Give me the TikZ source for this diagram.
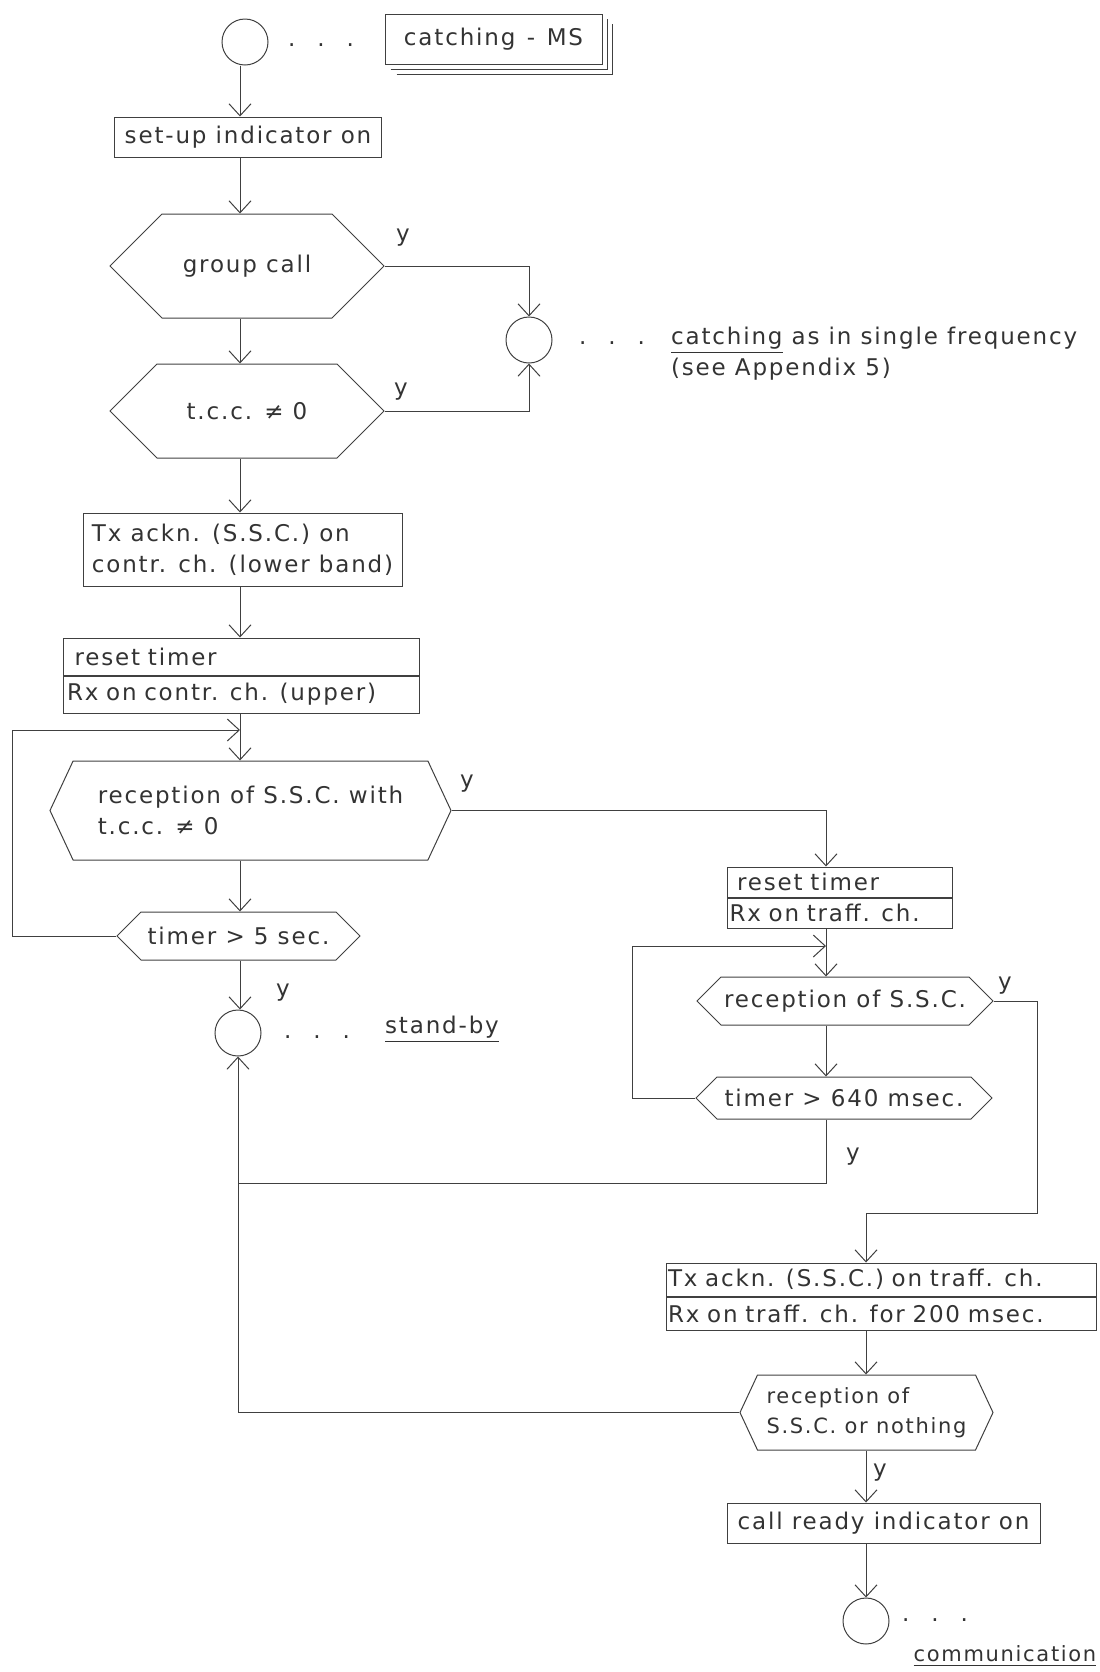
\documentclass[tikz,border=0pt]{standalone}
\usepackage{fontspec}
\setmainfont{DejaVu Sans}[LetterSpace=8]
\usetikzlibrary{arrows.meta,positioning,shapes.symbols}
\newcommand{\dotrow}{.\hspace{11pt}.\hspace{11pt}.}

\begin{document}
\begin{tikzpicture}[x=0.5pt,y=-0.5pt,
  every node/.style={font=\fontsize{11.5}{15.5}\selectfont,text=black!80},
  inkline/.style={draw=black!75,line width=0.5pt},
  >={Straight Barb[length=6pt,width=11pt]},
  box/.style={inkline,rectangle,inner sep=0pt},
  hexa/.style={inkline,signal,signal to=east and west,inner sep=0pt},
  conn/.style={inkline,circle,minimum size=23pt,inner sep=0pt}]
\useasboundingbox (0,0) rectangle (1099,1672);
\coordinate (colA) at (240,0);
\coordinate (colB) at (826,0);
\coordinate (colC) at (866,0);

\node[conn] (start) at (245,42) {};
\node[anchor=base] (dots0) at (321,46) {\dotrow};
\node[box,minimum width=108.5pt,minimum height=25pt] (ms) at (493.5,39) {catching\enspace-\enspace MS};
\draw[inkline] ([shift={(3pt,-2.5pt)}]ms.south west) -| ([shift={(2.5pt,-2.5pt)}]ms.north east);
\draw[inkline] ([shift={(6pt,-5pt)}]ms.south west) -| ([shift={(5pt,-5pt)}]ms.north east);

\node[box,minimum width=133.5pt,minimum height=20pt] (setup) at (248,137) {set-up indicator on};
\node[hexa,minimum width=137pt,minimum height=52pt] (gc) at (247,266) {group call};
\node (y1) at (403,238) {y};
\node[conn] (join) at (529,340) {};
\node[anchor=base] (dots1) at (612,344) {\dotrow};
\node[anchor=west,align=left] (single) at (664,354) {\underline{catching} as in single frequency\\(see Appendix 5)};
\node[hexa,minimum width=137pt,minimum height=47pt] (tcc) at (247,411) {t.c.c. ≠ 0};
\node (y2) at (401,392) {y};
\node[box,minimum width=159.5pt,minimum height=36.5pt,align=left] (txa) at (242.5,549.5) {Tx ackn. (S.S.C.) on\\contr. ch. (lower band)};
\node[box,minimum width=178pt,minimum height=18.5pt,text width=174pt,align=left] (rt1) at (241,656.5) {\ reset timer};
\node[box,minimum width=178pt,minimum height=18.5pt,text width=174pt,align=left,below=0pt of rt1] (rx1) {Rx on contr. ch. (upper)};
\node[hexa,signal pointer angle=130,minimum width=200.5pt,minimum height=49.5pt,align=left] (recep) at (250.5,810.5) {reception of S.S.C. with\\t.c.c. ≠ 0};
\node (y3) at (467,784) {y};
\node[hexa,minimum width=121.5pt,minimum height=24pt] (t5) at (238.5,936) {timer > 5 sec.};
\node (y4) at (283,993) {y};
\node[conn] (stby) at (238,1033) {};
\node[anchor=base] (dots2) at (317,1038) {\dotrow};
\node (standby) at (442,1029) {\underline{stand-by}};

\node[box,minimum width=112.5pt,minimum height=15pt,text width=110pt,align=left] (rt2) at (839.5,882) {\ reset timer};
\node[box,minimum width=112.5pt,minimum height=15pt,text width=110pt,align=left,below=0pt of rt2] (rx2) {Rx on traff. ch.};
\node[hexa,minimum width=148pt,minimum height=24pt] (rs) at (845,1001) {reception of S.S.C.};
\node (y5) at (1005,986) {y};
\node[hexa,minimum width=148pt,minimum height=21pt] (t640) at (844,1098) {timer > 640 msec.};
\node (y6) at (853,1157) {y};
\node[box,minimum width=215pt,minimum height=16.5pt,text width=213pt,align=left] (txt) at (881,1279.5) {Tx ackn. (S.S.C.) on traff. ch.};
\node[box,minimum width=215pt,minimum height=16.5pt,text width=213pt,align=left,below=0pt of txt] (rxt) {Rx on traff. ch. for 200 msec.};
\node[hexa,signal pointer angle=130,minimum width=126.5pt,minimum height=37.5pt,align=left,font=\fontsize{10.5}{15}\selectfont] (rn) at (866.5,1412.5) {reception of\\S.S.C. or nothing};
\node (y7) at (880,1473) {y};
\node[box,minimum width=156.5pt,minimum height=20pt] (ready) at (883.5,1523) {call ready indicator on};
\node[conn] (comm) at (866,1621) {};
\node[anchor=base] (dots3) at (935,1621) {\dotrow};
\node[font=\fontsize{10.5}{15}\selectfont] (commtxt) at (1005,1656) {\underline{communication}};

\coordinate (jA) at (240,730);
\coordinate (lpA) at (12,730);
\coordinate (jB) at (826,946);
\coordinate (lpB) at (632,946);
\coordinate (mB) at (238,1183);
\coordinate (bR) at (1037,1213);
\coordinate (bC) at (866,1213);

\draw[inkline,->] (colA |- start.south) -- (colA |- setup.north);
\draw[inkline,->] (colA |- setup.south) -- (colA |- gc.north);
\draw[inkline,->] (gc.east) -| (join.north);
\draw[inkline,->] (colA |- gc.south) -- (colA |- tcc.north);
\draw[inkline,->] (tcc.east) -| (join.south);
\draw[inkline,->] (colA |- tcc.south) -- (colA |- txa.north);
\draw[inkline,->] (colA |- txa.south) -- (colA |- rt1.north);
\draw[inkline,->] (colA |- rx1.south) -- (colA |- recep.north);
\draw[inkline,->] (t5.west) -| (lpA) -- (jA);
\draw[inkline,->] (recep.east) -| (colB |- rt2.north);
\draw[inkline,->] (colA |- recep.south) -- (colA |- t5.north);
\draw[inkline,->] (colA |- t5.south) -- (colA |- stby.north);
\draw[inkline,->] (colB |- rx2.south) -- (colB |- rs.north);
\draw[inkline,->] (t640.west) -| (lpB) -- (jB);
\draw[inkline,->] (colB |- rs.south) -- (colB |- t640.north);
\draw[inkline] (colB |- t640.south) |- (mB);
\draw[inkline,->] (rs.east) -| (bR) -- (bC) -- (colC |- txt.north);
\draw[inkline,->] (colC |- rxt.south) -- (colC |- rn.north);
\draw[inkline,->] (rn.west) -| (stby.south);
\draw[inkline,->] (colC |- rn.south) -- (colC |- ready.north);
\draw[inkline,->] (colC |- ready.south) -- (colC |- comm.north);
\end{tikzpicture}
\end{document}
